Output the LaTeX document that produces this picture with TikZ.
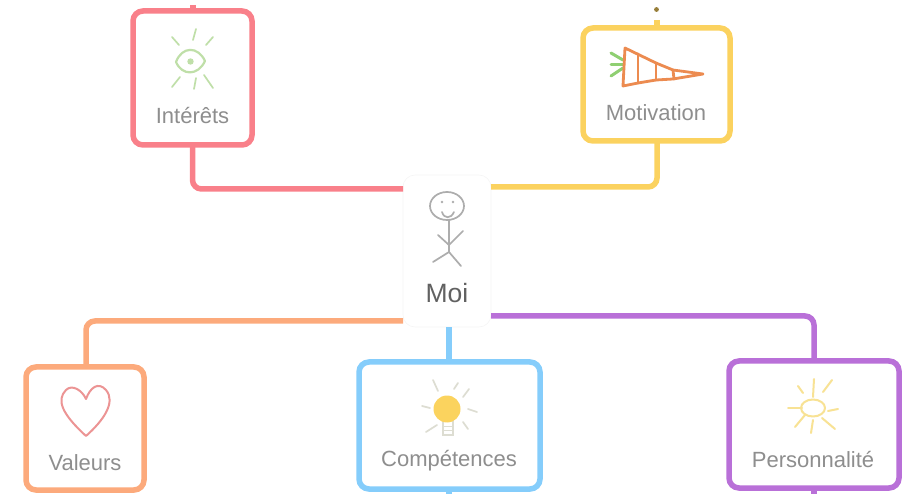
\documentclass[tikz,border=0pt]{standalone}
\usepackage{fontspec}
\setmainfont{Liberation Sans}
\usetikzlibrary{calc}

\definecolor{redline}{HTML}{F9808A}
\definecolor{yellowline}{HTML}{FBD25F}
\definecolor{orangeline}{HTML}{FCAA7C}
\definecolor{blueline}{HTML}{85CDFB}
\definecolor{purpleline}{HTML}{B970D8}
\definecolor{labelgray}{HTML}{8E8E8E}

\tikzset{
  mapbox/.style={draw=#1,line width=5.5pt,rounded corners=10pt,fill=white,inner sep=0pt,outer sep=0pt},
  mapline/.style={draw=#1,line width=5.5pt,rounded corners=9pt},
  maplabel/.style={text=labelgray,font=\fontsize{22}{24}\selectfont,inner sep=0pt},
  sketch/.style={draw=#1,line width=1.7pt,line cap=round,line join=round}
}

\begin{document}
\begin{tikzpicture}[x=1pt,y=-1pt]

\useasboundingbox (0,0) rectangle (908,494);

% centre
\node[draw=black!4,line width=.6pt,rounded corners=12pt,fill=white,minimum width=88pt,minimum height=152pt,outer sep=0pt] (moi) at (447,251) {};
\node[maplabel,text=black!62,font=\fontsize{26.5}{28}\selectfont] (moilabel) at (447,293) {Moi};
\coordinate (moired) at (403,189);
\coordinate (moiyellow) at (491,187);
\coordinate (moiorange) at (403,321);
\coordinate (moipurple) at (491,316);

% connectors
\coordinate (redtop) at (193,5);
\coordinate (yellowtop) at (657,20);
\coordinate (bluebottom) at (449,494);
\coordinate (purplebottom) at (814,494);
\coordinate (redfoot) at (192.5,145);
\coordinate (yellowfoot) at (657,141);
\coordinate (orangefoot) at (86,367);
\coordinate (bluefoot) at (449,362);
\coordinate (purplefoot) at (814,361);

\draw[mapline=redline] (redfoot) |- (moired);
\draw[mapline=yellowline] (yellowfoot) |- (moiyellow);
\draw[mapline=orangeline] (orangefoot) |- (moiorange);
\draw[mapline=blueline] (bluefoot) -- (bluefoot |- moi.south);
\draw[mapline=purpleline] (purplefoot) |- (moipurple);
\draw[mapline=redline] (redtop) -- (redtop |- 0,11);
\draw[mapline=yellowline] (yellowtop) -- (yellowtop |- 0,28);
\draw[mapline=blueline] (bluebottom) -- (bluebottom |- 0,489);
\draw[mapline=purpleline] (purplebottom) -- (purplebottom |- 0,488);
\fill[yellowline!60!black] (656.5,9.5) circle (2.4);

% boxes
\node[mapbox=redline,minimum width=119pt,minimum height=134pt] (interets) at (192.5,78) {};
\node[mapbox=yellowline,minimum width=147pt,minimum height=113pt] (motivation) at (656.5,84.5) {};
\node[mapbox=orangeline,minimum width=118pt,minimum height=123pt] (valeurs) at (85,428.5) {};
\node[mapbox=blueline,minimum width=181pt,minimum height=127pt] (competences) at (449.5,425.5) {};
\node[mapbox=purpleline,minimum width=170pt,minimum height=127pt] (personnalite) at (814,424.5) {};

\node[maplabel] (intereslabel) at (192.5,116) {Intérêts};
\node[maplabel] (motivationlabel) at (656,113) {Motivation};
\node[maplabel] (valeurslabel) at (85,463) {Valeurs};
\node[maplabel] (competenceslabel) at (449,461) {Compétences};
\node[maplabel] (personnalitelabel) at (813,460) {Personnalité};

% stick figure
\def\ink{black!32}
\draw[sketch=\ink] (447,206) ellipse (17 and 14);
\fill[\ink] (442,202) circle (1.3) (453,202) circle (1.3);
\draw[sketch=\ink] (442,212) .. controls (444,219) and (451,219) .. (454,212);
\draw[sketch=\ink] (449,220) -- (449,252) -- (433,262);
\draw[sketch=\ink] (449,252) -- (461,266);
\draw[sketch=\ink] (438,235) -- (449,245) -- (463,231);

% eye
\definecolor{eyegreen}{HTML}{BFDFA8}
\draw[sketch=eyegreen,line width=2.2pt] (176,62) .. controls (182,46) and (198,46) .. (205,61) .. controls (198,76) and (182,76) .. (176,62) -- cycle;
\fill[eyegreen] (190.5,61.5) circle (3.2);
\foreach \xa/\ya/\xb/\yb in {172/37/179/45,196/29/193/40,213/37/206/45,172/87/180/77,196/78/194/89,204/75/213/88}
  \draw[sketch=eyegreen] (\xa,\ya) -- (\xb,\yb);

% carrot
\definecolor{carrot}{HTML}{EC8B50}
\definecolor{carrottop}{HTML}{8FCF72}
\foreach \ya/\yb in {53/60,65/65,76/68}
  \draw[sketch=carrottop,line width=3pt] (611,\ya) -- (623,\yb);
\draw[sketch=carrot,line width=2.8pt] (625,48) -- (656,63) -- (673,70) -- (703,74) -- (673,79) -- (656,80) -- (638,83) -- (623,86) -- cycle;
\foreach \xa/\ya/\xb/\yb in {638/54/638/83,656/63/656/80,673/70/674/79}
  \draw[sketch=carrot,line width=2.8pt] (\xa,\ya) -- (\xb,\yb);

% heart
\definecolor{heartred}{HTML}{EC9494}
\draw[sketch=heartred,line width=2pt] (86,399) .. controls (82,390) and (72,384) .. (66,390) .. controls (56,400) and (62,414) .. (86,436) .. controls (104,420) and (116,402) .. (106,390) .. controls (98,381) and (90,388) .. (86,399) -- cycle;

% bulb
\definecolor{bulbray}{HTML}{DDDDD2}
\definecolor{bulbyellow}{HTML}{FBD35E}
\foreach \xa/\ya/\xb/\yb in {433/380/438/391,458/383/454/389,469/389/463/397,422/406/430/408,468/409/477/412,426/432/437/425,463/422/468/429}
  \draw[sketch=bulbray] (\xa,\ya) -- (\xb,\yb);
\draw[bulbray,line width=1.2pt,fill=white] (443,420) rectangle (453,435);
\draw[bulbray,line width=1pt] (443,426) -- (453,426) (443,430) -- (453,430);
\fill[bulbyellow] (447,409) circle (13.5);

% sun
\definecolor{sunyellow}{HTML}{F8E294}
\draw[sketch=sunyellow,line width=2pt] (813,408) ellipse (12 and 8.5);
\foreach \xa/\ya/\xb/\yb in {814/379/813/397,832/380/823/392,798/386/803/393,788/408/802/408,828/411/838/409,795/427/805/415,813/420/811/433,822/418/835/429}
  \draw[sketch=sunyellow,line width=2pt] (\xa,\ya) -- (\xb,\yb);

\end{tikzpicture}
\end{document}
